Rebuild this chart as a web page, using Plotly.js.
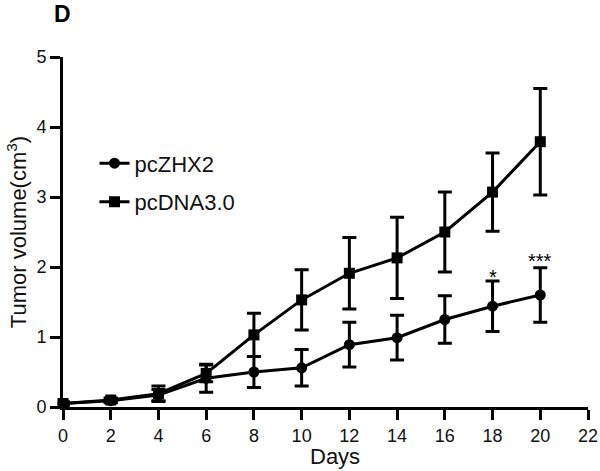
<!DOCTYPE html>
<html>
<head>
<meta charset="utf-8">
<script src="https://cdn.plot.ly/plotly-3.0.1.min.js"></script>
<style>html,body{margin:0;padding:0;background:#fff;}#chart{width:600px;height:471px;}</style>
</head>
<body>
<div id="chart"></div>
<script>
const days = [0, 2, 4, 6, 8, 10, 12, 14, 16, 18, 20];
const zhx2 = [0.05, 0.09, 0.17, 0.41, 0.50, 0.56, 0.89, 0.99, 1.25, 1.44, 1.60];
const zhx2Err = [0.02, 0.03, 0.08, 0.20, 0.22, 0.26, 0.32, 0.32, 0.34, 0.36, 0.39];
const dna = [0.05, 0.10, 0.19, 0.48, 1.03, 1.53, 1.91, 2.13, 2.50, 3.07, 3.79];
const dnaErr = [0.02, 0.03, 0.11, 0.12, 0.31, 0.43, 0.51, 0.58, 0.57, 0.56, 0.76];
const sigDays = [18, 20];
const sigY = [1.86, 2.09];
const sigLabels = ['*', '***'];
const xTicks = [0, 2, 4, 6, 8, 10, 12, 14, 16, 18, 20, 22];
const yTicks = [0, 1, 2, 3, 4, 5];

const font = 'Liberation Sans, Arial, sans-serif';
const errStyle = {type: 'data', visible: true, thickness: 3, width: 7, color: '#000'};

const W = 600, H = 471, L = 63, R = 12, T = 57, B = 64;
const pw = W - L - R, ph = H - T - B;
// pixel (from top-left of page) -> paper coords
const px = v => (v - L) / pw;
const py = v => (H - B - v) / ph;

const traces = [
  {
    x: days, y: zhx2, name: 'pcZHX2', type: 'scatter', mode: 'lines+markers',
    line: {color: '#000', width: 3},
    marker: {symbol: 'circle', size: 11, color: '#000'},
    error_y: Object.assign({array: zhx2Err}, errStyle),
    legendgroup: 'a', cliponaxis: false
  },
  {
    x: days, y: dna, name: 'pcDNA3.0', type: 'scatter', mode: 'lines+markers',
    line: {color: '#000', width: 3},
    marker: {symbol: 'square', size: 11, color: '#000'},
    error_y: Object.assign({array: dnaErr}, errStyle),
    legendgroup: 'b', cliponaxis: false
  }
];

const annotations = sigDays.map((d, i) => ({
  x: d, y: sigY[i], xref: 'x', yref: 'y', text: sigLabels[i], showarrow: false,
  font: {family: font, size: 20, color: '#000'}, xanchor: 'center', yanchor: 'middle'
}));
annotations.push({
  x: px(62.5), y: py(14), xref: 'paper', yref: 'paper', text: '<b>D</b>', showarrow: false,
  xanchor: 'center', yanchor: 'middle',
  font: {family: font, size: 23, color: '#000'}
});
annotations.push({
  x: px(335), y: py(456), xref: 'paper', yref: 'paper', text: 'Days', showarrow: false,
  xanchor: 'center', yanchor: 'middle',
  font: {family: font, size: 22, color: '#111'}
});

const layout = {
  width: W, height: H,
  margin: {l: L, r: R, t: T, b: B},
  paper_bgcolor: '#fff', plot_bgcolor: '#fff',
  font: {family: font, color: '#111'},
  showlegend: true,
  legend: {
    x: 0.06, y: 0.756, xanchor: 'left', yanchor: 'top',
    font: {family: font, size: 22, color: '#111'},
    traceorder: 'grouped', tracegroupgap: 7, bgcolor: 'rgba(0,0,0,0)'
  },
  xaxis: {
    range: [0, 22], tickvals: xTicks, ticktext: xTicks.map(String),
    showline: true, linecolor: '#000', linewidth: 3,
    ticks: 'outside', ticklen: 10, tickwidth: 3, tickcolor: '#000',
    showgrid: false, zeroline: false,
    tickfont: {family: font, size: 18, color: '#111'}
  },
  yaxis: {
    range: [0, 5], tickvals: yTicks, ticktext: yTicks.map(String),
    showline: true, linecolor: '#000', linewidth: 3,
    ticks: 'outside', ticklen: 10, tickwidth: 3, tickcolor: '#000',
    showgrid: false, zeroline: false,
    tickfont: {family: font, size: 18, color: '#111'},
    title: {text: 'Tumor volume(cm<sup>3</sup>)', font: {family: font, size: 22, color: '#111'}, standoff: 4}
  },
  annotations: annotations
};

Plotly.newPlot('chart', traces, layout, {staticPlot: true});
</script>
</body>
</html>
